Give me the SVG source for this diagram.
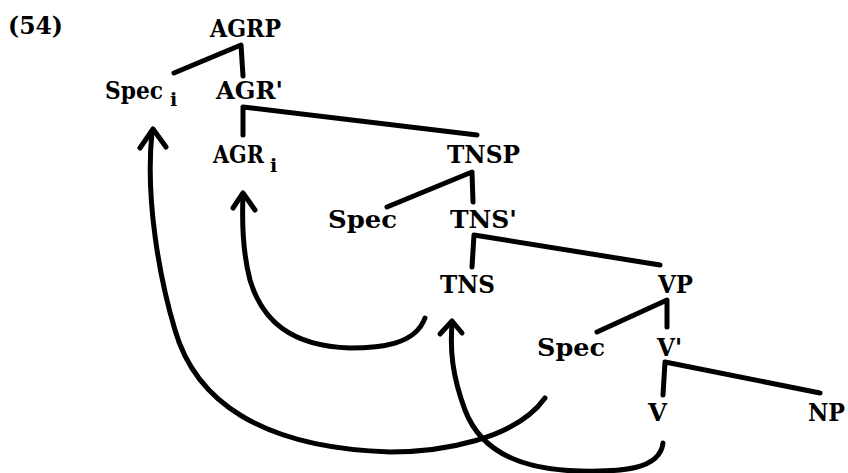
<svg xmlns="http://www.w3.org/2000/svg" width="848" height="473" viewBox="0 0 848 473">
<style>
  text { font-family: "DejaVu Serif", "Liberation Serif", serif; font-weight: bold; font-size: 24px; fill: #000; }
  .sub { font-size: 19px; }
  .edge { stroke: #000; stroke-width: 5; fill: none; stroke-linecap: round; stroke-linejoin: round; }
  .move { stroke: #000; stroke-width: 5; fill: none; stroke-linecap: round; stroke-linejoin: round; }
</style>
<rect width="848" height="473" fill="#fff"/>
<text x="8" y="34" textLength="55" lengthAdjust="spacingAndGlyphs">(54)</text>
<g id="AGRP"><text x="210" y="37" textLength="71" lengthAdjust="spacingAndGlyphs">AGRP</text></g>
<g id="Spec_i"><text x="105" y="99" textLength="58" lengthAdjust="spacingAndGlyphs">Spec</text><text class="sub" x="170" y="106">i</text></g>
<g id="AGR_bar"><text x="216" y="99" textLength="67" lengthAdjust="spacingAndGlyphs">AGR'</text></g>
<g id="AGR_i"><text x="213" y="163" textLength="51" lengthAdjust="spacingAndGlyphs">AGR</text><text class="sub" x="270" y="172">i</text></g>
<g id="TNSP"><text x="447" y="163" textLength="73" lengthAdjust="spacingAndGlyphs">TNSP</text></g>
<g id="Spec_TNSP"><text x="328" y="228" textLength="69" lengthAdjust="spacingAndGlyphs">Spec</text></g>
<g id="TNS_bar"><text x="450" y="228" textLength="67" lengthAdjust="spacingAndGlyphs">TNS'</text></g>
<g id="TNS"><text x="440" y="293" textLength="55" lengthAdjust="spacingAndGlyphs">TNS</text></g>
<g id="VP"><text x="658" y="293" textLength="35" lengthAdjust="spacingAndGlyphs">VP</text></g>
<g id="Spec_VP"><text x="537" y="356" textLength="68" lengthAdjust="spacingAndGlyphs">Spec</text></g>
<g id="V_bar"><text x="657" y="356" textLength="25" lengthAdjust="spacingAndGlyphs">V'</text></g>
<g id="V"><text x="648" y="421" textLength="19" lengthAdjust="spacingAndGlyphs">V</text></g>
<g id="NP"><text x="808" y="421" textLength="37" lengthAdjust="spacingAndGlyphs">NP</text></g>
<g id="connectors">
  <path class="edge" d="M174,73 L241,45 L243,76"/>
  <path class="edge" d="M243,135 L243,107 L477,135"/>
  <path class="edge" d="M387,207 L472,172 L473,202"/>
  <path class="edge" d="M472,267 L474,235 L660,265"/>
  <path class="edge" d="M597,332 L667,300 L667,327"/>
  <path class="edge" d="M663,395 L665,362 L820,393"/>
  <path class="move" d="M545,398 C 515,440 440,452 390,452 C 260,448 195,400 175,330 C 160,280 145,200 152,132"/>
  <polyline class="move" points="140,148 153,129 166,147"/>
  <path class="move" d="M425,318 C 415,345 380,348 350,348 C 290,346 262,320 250,280 C 242,250 242,220 243,195"/>
  <polyline class="move" points="233,208 243,193 255,210"/>
  <path class="move" d="M663,443 C 660,470 620,472 580,471 C 520,470 480,450 465,410 C 452,375 450,350 452,324"/>
  <polyline class="move" points="440,334 452,321 462,333"/>
</g>
</svg>
